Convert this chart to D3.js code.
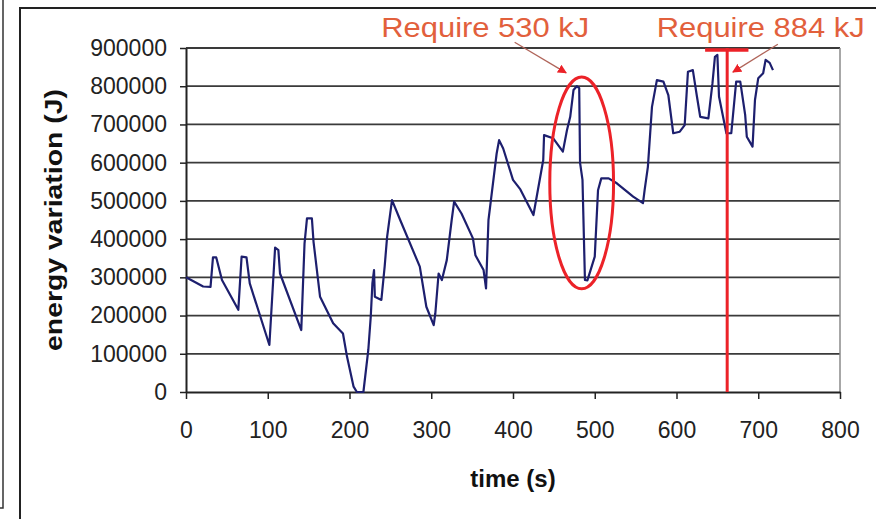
<!DOCTYPE html>
<html>
<head>
<meta charset="utf-8">
<script src="https://cdn.jsdelivr.net/npm/d3@7"></script>
<style>
  html, body { margin: 0; padding: 0; background: #fff; }
  svg { display: block; font-family: "Liberation Sans", Arial, sans-serif; }
</style>
</head>
<body>
<div id="chart"></div>
<script>
// time (s) and energy variation (J)
const timeS = [0, 21, 30, 33, 37, 44, 64, 68, 74, 78, 102, 109, 113, 115, 141, 145, 148, 154, 156, 164,
  180, 192, 197, 205, 209, 217, 223, 226, 228, 230, 231, 239, 243, 246, 252, 262, 286, 294, 303, 305,
  309, 313, 319, 325, 328, 337, 351, 354, 364, 367, 370, 373, 380, 383, 388, 400, 409, 425, 437, 438,
  449, 461, 466, 470, 474, 478, 481, 482, 485, 488, 491, 500, 504, 508, 517, 527, 547, 559, 561, 565,
  570, 576, 584, 590, 596, 604, 610, 614, 620, 625, 629, 639, 644, 647, 650, 652, 661, 667, 673, 678,
  684, 686, 693, 696, 700, 706, 709, 714, 718]
const energyJ = [300000, 276000, 275000, 352000, 352000, 293000, 215000, 354000, 352000, 284000,
  123000, 378000, 371000, 310000, 162000, 389000, 454000, 454000, 393000, 249000,
  180000, 153000, 92000, 14000, 0, 0, 110000, 197000, 284000, 319000,
  249000, 241000, 328000, 406000, 502000, 450000, 328000, 223000, 175000, 206000,
  310000, 293000, 345000, 450000, 498000, 467000, 402000, 358000, 319000, 271000,
  450000, 502000, 624000, 659000, 637000, 555000, 530000, 463000, 607000, 672000,
  664000, 629000, 685000, 720000, 790000, 800000, 795000, 600000, 555000, 293000,
  292000, 354000, 528000, 559000, 559000, 546000, 511000, 494000, 528000, 589000,
  746000, 816000, 812000, 777000, 677000, 681000, 698000, 838000, 842000, 773000,
  720000, 716000, 808000, 877000, 882000, 773000, 677000, 677000, 812000, 812000,
  725000, 668000, 642000, 764000, 821000, 834000, 869000, 861000, 842000]

const xTicks = [0, 100, 200, 300, 400, 500, 600, 700, 800]
const yTicks = [0, 100000, 200000, 300000, 400000, 500000, 600000, 700000, 800000, 900000]
const noteLabels = ["Require 530 kJ", "Require 884 kJ"]
const requireT = 662   // time where the 884 kJ requirement is marked

const W = 876, H = 519
const red = "#ec2228", noteRed = "#e2603c"

const svg = d3.select("#chart").append("svg")
  .attr("width", W)
  .attr("height", H)

svg.append("rect").attr("width", W).attr("height", H).attr("fill", "#fff")

// page frames
svg.append("path")
  .attr("d", "M3,0V508H0")
  .attr("fill", "none").attr("stroke", "#333").attr("stroke-width", 1.5)
svg.append("path")
  .attr("d", `M20,${H}V8H${W}`)
  .attr("fill", "none").attr("stroke", "#222").attr("stroke-width", 2)

const x = d3.scaleLinear().domain([0, 800]).range([186, 840])
const y = d3.scaleLinear().domain([0, 900000]).range([392, 48])

// gridlines
svg.append("g")
  .selectAll("line")
  .data(yTicks.filter(d => d > 0))
  .join("line")
    .attr("x1", x(0)).attr("x2", x(800))
    .attr("y1", d => y(d)).attr("y2", d => y(d))
    .attr("stroke", "#3a3a3a")
    .attr("stroke-width", 1.8)

// right border of plot area
svg.append("line")
  .attr("x1", x(800)).attr("x2", x(800))
  .attr("y1", y(900000)).attr("y2", y(0))
  .attr("stroke", "#8a8a8a").attr("stroke-width", 1.5)

const yAxis = svg.append("g")
  .attr("transform", `translate(${x(0)},0)`)
  .call(d3.axisLeft(y).tickValues(yTicks).tickFormat(d3.format("d"))
    .tickSize(6).tickSizeOuter(0).tickPadding(13))
yAxis.selectAll("text").attr("font-size", 23).attr("fill", "#222")
  .attr("font-family", "Liberation Sans, Arial, sans-serif")

const xAxis = svg.append("g")
  .attr("transform", `translate(0,${y(0)})`)
  .call(d3.axisBottom(x).tickValues(xTicks).tickSize(7).tickSizeOuter(0).tickPadding(23))
xAxis.selectAll("text").attr("font-size", 23).attr("fill", "#222")
  .attr("font-family", "Liberation Sans, Arial, sans-serif")

svg.selectAll(".domain").attr("stroke", "#222").attr("stroke-width", 2)
svg.selectAll(".tick line").attr("stroke", "#222").attr("stroke-width", 1.5)

// axis titles
svg.append("text")
  .attr("transform", `translate(${x(0) - 132},${y(450000)}) rotate(-90)`)
  .attr("text-anchor", "middle")
  .attr("dy", "0.35em")
  .attr("font-size", 23)
  .attr("font-weight", "bold")
  .attr("textLength", 262)
  .attr("lengthAdjust", "spacingAndGlyphs")
  .attr("fill", "#111")
  .text("energy variation (J)")

svg.append("text")
  .attr("x", x(400))
  .attr("y", 487)
  .attr("text-anchor", "middle")
  .attr("font-size", 24)
  .attr("font-weight", "bold")
  .attr("fill", "#111")
  .text("time (s)")

// the series
const series = timeS.map((t, i) => [t, energyJ[i]])
svg.append("path")
  .datum(series)
  .attr("fill", "none")
  .attr("stroke", "#1d1f6e")
  .attr("stroke-width", 2.2)
  .attr("stroke-linejoin", "round")
  .attr("d", d3.line().x(d => x(d[0])).y(d => y(d[1])))

// annotations
const defs = svg.append("defs")
defs.append("marker")
  .attr("id", "head")
  .attr("viewBox", "0 0 10 10")
  .attr("refX", 9).attr("refY", 5)
  .attr("markerWidth", 7).attr("markerHeight", 7)
  .attr("orient", "auto")
  .append("path")
    .attr("d", "M0,0L10,5L0,10z")
    .attr("fill", red)

svg.append("ellipse")
  .attr("cx", x(484))
  .attr("cy", y(547000))
  .attr("rx", x(484 + 39) - x(484))
  .attr("ry", y(0) - y(277000))
  .attr("fill", "none")
  .attr("stroke", red)
  .attr("stroke-width", 3)

svg.append("line")
  .attr("x1", x(requireT)).attr("x2", x(requireT))
  .attr("y1", y(900000)).attr("y2", y(0))
  .attr("stroke", red).attr("stroke-width", 3)

svg.append("line")
  .attr("x1", x(635)).attr("x2", x(688))
  .attr("y1", y(895000)).attr("y2", y(895000))
  .attr("stroke", red).attr("stroke-width", 3.5)

const arrows = [
  [[402, 915000], [465, 835000]],
  [[724, 910000], [669, 837000]],
]
svg.append("g")
  .selectAll("line")
  .data(arrows)
  .join("line")
    .attr("x1", d => x(d[0][0])).attr("y1", d => y(d[0][1]))
    .attr("x2", d => x(d[1][0])).attr("y2", d => y(d[1][1]))
    .attr("stroke", "#b0655a")
    .attr("stroke-width", 1.3)
    .attr("marker-end", "url(#head)")

svg.append("g")
  .selectAll("text")
  .data(noteLabels)
  .join("text")
    .attr("x", (d, i) => x([366, 703][i]))
    .attr("y", y(930000))
    .attr("text-anchor", "middle")
    .attr("font-size", 27)
    .attr("textLength", 208)
    .attr("lengthAdjust", "spacingAndGlyphs")
    .attr("fill", noteRed)
    .text(d => d)
</script>
</body>
</html>
